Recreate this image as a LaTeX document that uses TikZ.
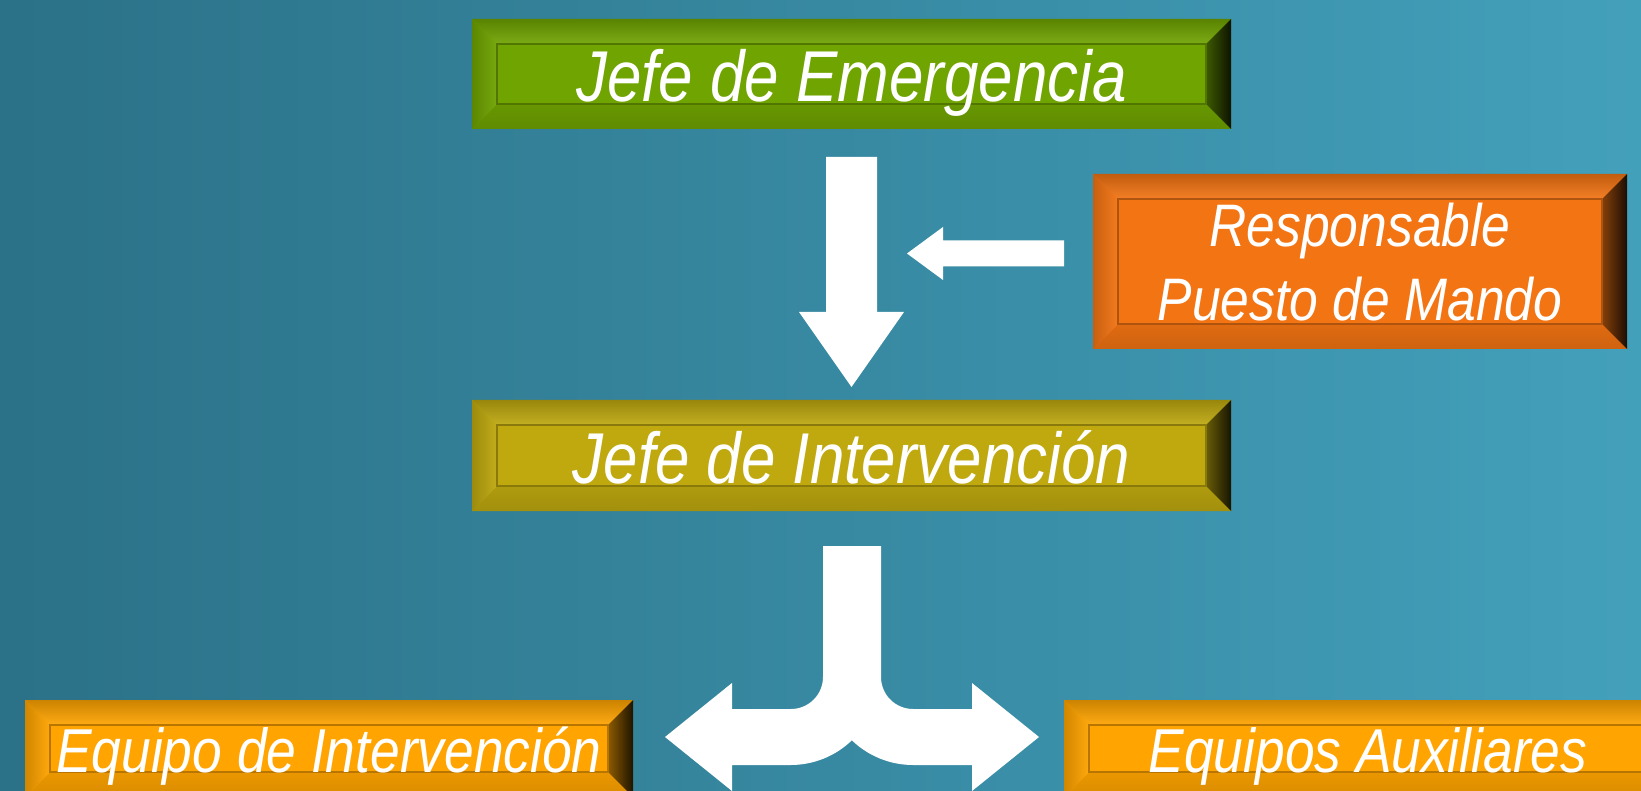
\documentclass[tikz,border=0pt]{standalone}
\usepackage{fontspec}
\newfontfamily\bxfont[FakeStretch=0.86]{Liberation Sans}
\usetikzlibrary{calc}
\definecolor{bgL}{HTML}{2B7187}
\definecolor{bgR}{HTML}{43A0BB}
\definecolor{cGreen}{HTML}{70A401}
\definecolor{cOlive}{HTML}{BFA90F}
\definecolor{cOrange}{HTML}{F37413}
\definecolor{cAmber}{HTML}{FFA400}
\newcommand{\bw}{25}
\newcommand{\bevel}[2]{%
  \fill[#2] (#1.north west) rectangle (#1.south east);
  \shade[top color=#2!80!black, middle color=#2!65!white, bottom color=#2!92!white]
    let \p1=(#1.north west), \p2=(#1.south east) in
    (\x1,\y1) -- (\x2,\y1) -- (\x2-\bw,\y1-\bw) -- (\x1+\bw,\y1-\bw) -- cycle;
  \shade[top color=#2!92!black, middle color=#2!48!black, bottom color=#2!85!black]
    let \p1=(#1.north west), \p2=(#1.south east) in
    (\x1,\y2) -- (\x2,\y2) -- (\x2-\bw,\y2+\bw) -- (\x1+\bw,\y2+\bw) -- cycle;
  \shade[left color=#2!82!black, right color=#2!95!white]
    let \p1=(#1.north west), \p2=(#1.south east) in
    (\x1,\y1) -- (\x1+\bw,\y1-\bw) -- (\x1+\bw,\y2+\bw) -- (\x1,\y2) -- cycle;
  \shade[left color=#2!55!black, right color=#2!12!black]
    let \p1=(#1.north west), \p2=(#1.south east) in
    (\x2,\y1) -- (\x2-\bw,\y1-\bw) -- (\x2-\bw,\y2+\bw) -- (\x2,\y2) -- cycle;
  \draw[#2!72!black, line width=1.2pt]
    let \p1=(#1.north west), \p2=(#1.south east) in
    (\x1+\bw,\y1-\bw) rectangle (\x2-\bw,\y2+\bw);
}
\tikzset{
  boxnode/.style={rectangle, inner sep=0pt, outer sep=0pt},
  lbl/.style={inner sep=0pt, anchor=base, text=white},
  bigtxt/.style={font=\bxfont\itshape\fontsize{72}{80}\selectfont},
  midtxt/.style={font=\bxfont\itshape\fontsize{60}{70}\selectfont},
  eqtxt/.style={font=\bxfont\itshape\fontsize{62}{70}\selectfont},
  blockarrow/.style={fill=white}
}
\begin{document}
\begin{tikzpicture}[x=1pt,y=1pt]
\useasboundingbox (0,0) rectangle (1641,-791);
\clip (0,0) rectangle (1641,-791);
\shade[left color=bgL, right color=bgR] (0,0) rectangle (1641,-791);

% boxes
\node[boxnode, minimum width=759pt, minimum height=110pt] (jefe) at (851.5,-74) {};
\node[boxnode, minimum width=759pt, minimum height=111pt] (inter) at (851.5,-455.5) {};
\node[boxnode, minimum width=534pt, minimum height=175pt] (resp) at (1360,-261.5) {};
\node[boxnode, minimum width=608pt, minimum height=97pt] (equipo) at (329,-748.5) {};
\node[boxnode, minimum width=608pt, minimum height=97pt] (aux) at (1368,-748.5) {};

\bevel{jefe}{cGreen}
\bevel{inter}{cOlive}
\bevel{resp}{cOrange}
\bevel{equipo}{cAmber}
\bevel{aux}{cAmber}

% texts
\node[lbl, bigtxt] (tjefe) at (851.5,-102) {Jefe de Emergencia};
\node[lbl, bigtxt] (tinter) at (851.5,-483) {Jefe de Intervención};
\node[lbl, midtxt] (tresp1) at (1360,-247) {Responsable};
\node[lbl, midtxt] (tresp2) at (1360,-321) {Puesto de Mando};
\node[lbl, eqtxt] (tequipo) at (329,-772) {Equipo de Intervención};
\node[lbl, eqtxt] (taux) at (1368,-772) {Equipos Auxiliares};

% down arrow jefe -> inter
\coordinate (a1s) at ($(jefe.south)+(0,-28)$);
\coordinate (a1e) at ($(inter.north)+(0,13)$);
\fill[blockarrow] let \p1=(a1s), \p2=(a1e) in
  (\x1-25.5,\y1) -- (\x1+25.5,\y1) -- (\x1+25.5,\y2+75) -- (\x1+52.5,\y2+75)
  -- (\x2,\y2) -- (\x1-52.5,\y2+75) -- (\x1-25.5,\y2+75) -- cycle;

% left arrow resp -> down arrow
\coordinate (a2s) at ($(resp.west)+(-29,8)$);
\coordinate (a2e) at ($(a1s)+(55.5,-96.5)$);
\fill[blockarrow] let \p1=(a2s), \p2=(a2e) in
  (\x1,\y1+13) -- (\x1,\y1-13) -- (\x2+36,\y1-13) -- (\x2+36,\y1-26.5)
  -- (\x2,\y2) -- (\x2+36,\y1+26.5) -- (\x2+36,\y1+13) -- cycle;

% split arrow inter -> equipo / aux
\fill[blockarrow] (823,-546) -- (881,-546) -- (881,-677)
  arc[start angle=180, end angle=270, radius=32]
  -- (972,-709) -- (972,-683) -- (1039,-737) -- (972,-791) -- (972,-765) -- (913,-765)
  arc[start angle=270, end angle=226, radius=88]
  arc[start angle=314, end angle=270, radius=88]
  -- (732,-765) -- (732,-791) -- (665,-737) -- (732,-683) -- (732,-709) -- (791,-709)
  arc[start angle=270, end angle=360, radius=32]
  -- cycle;
\end{tikzpicture}
\end{document}
